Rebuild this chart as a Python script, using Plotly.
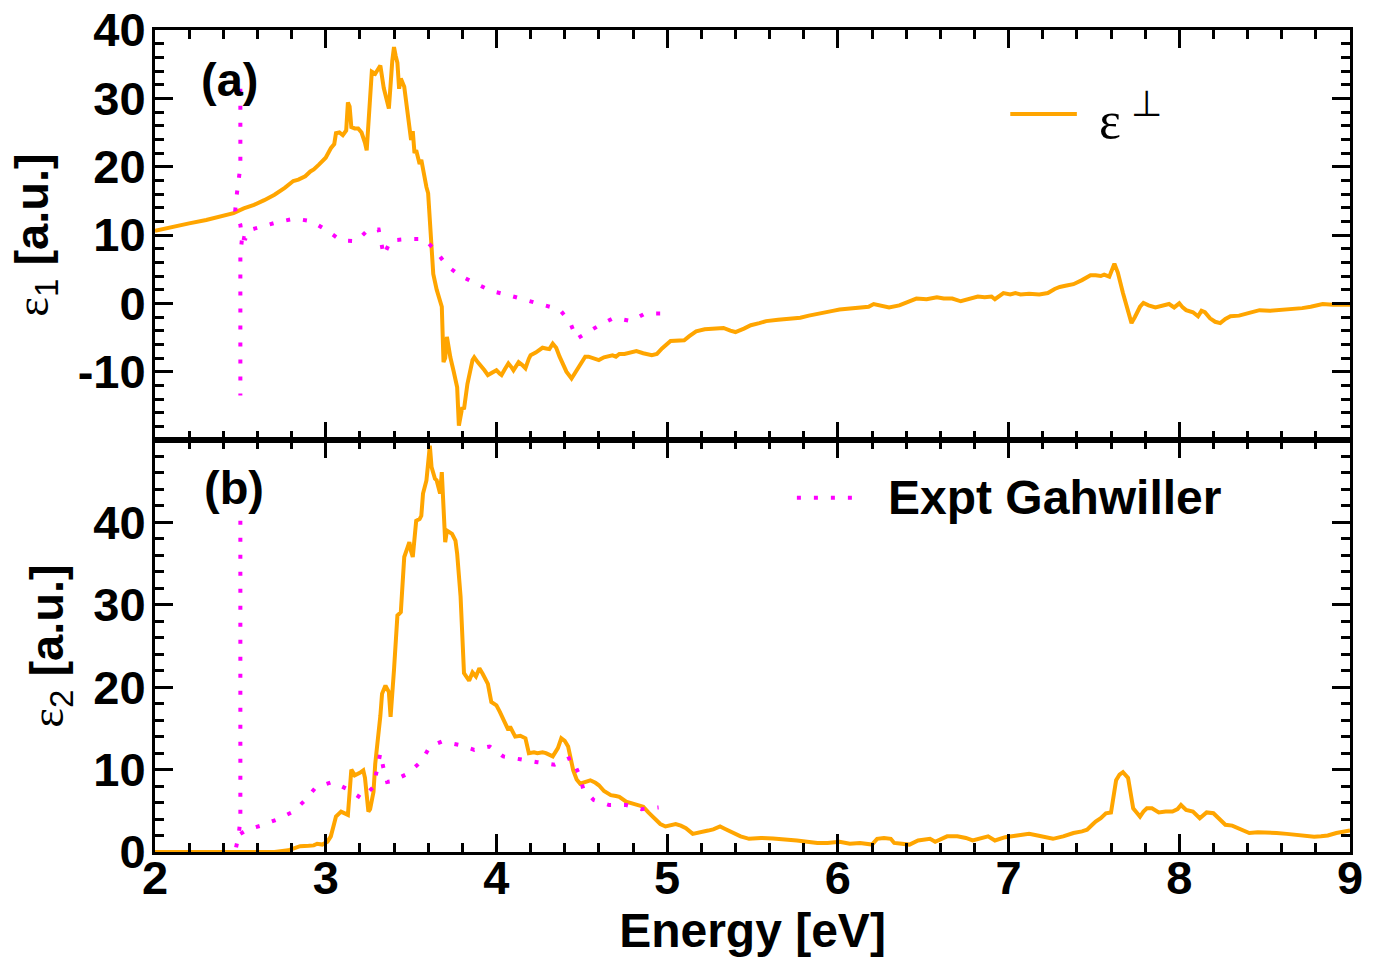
import plotly.graph_objects as go

# ---------------- data ----------------
# calculated epsilon_1 (perpendicular)
calc_e1_energy = [2.00, 2.10, 2.20, 2.30, 2.40, 2.46, 2.52, 2.58, 2.64, 2.70, 2.76, 2.81, 2.84, 2.88, 2.91,
                  2.93, 2.96, 3.00, 3.03, 3.05, 3.06, 3.08, 3.10, 3.12, 3.13, 3.14, 3.15, 3.17, 3.19, 3.21,
                  3.23, 3.24, 3.27, 3.29, 3.30, 3.32, 3.34, 3.36, 3.37, 3.39, 3.40, 3.41, 3.42, 3.43, 3.44,
                  3.46, 3.48, 3.49, 3.50, 3.51, 3.52, 3.53, 3.55, 3.56, 3.57, 3.59, 3.60, 3.61, 3.63, 3.65,
                  3.67, 3.68, 3.69, 3.70, 3.71, 3.72, 3.73, 3.75, 3.77, 3.78, 3.79, 3.80, 3.81, 3.83, 3.86,
                  3.87, 3.89, 3.91, 3.93, 3.95, 3.98, 4.00, 4.02, 4.03, 4.05, 4.07, 4.09, 4.10, 4.12, 4.13,
                  4.15, 4.17, 4.19, 4.20, 4.23, 4.25, 4.27, 4.29, 4.31, 4.33, 4.35, 4.37, 4.39, 4.41, 4.44,
                  4.47, 4.50, 4.52, 4.54, 4.57, 4.60, 4.63, 4.66, 4.68, 4.70, 4.72, 4.75, 4.78, 4.82, 4.86,
                  4.91, 4.94, 4.97, 5.02, 5.06, 5.10, 5.13, 5.17, 5.22, 5.29, 5.33, 5.37, 5.40, 5.45, 5.49,
                  5.54, 5.58, 5.65, 5.72, 5.78, 5.83, 5.88, 5.93, 5.97, 6.01, 6.07, 6.13, 6.18, 6.21, 6.25,
                  6.30, 6.36, 6.41, 6.46, 6.52, 6.58, 6.62, 6.67, 6.72, 6.77, 6.82, 6.86, 6.90, 6.92, 6.95,
                  6.97, 7.01, 7.04, 7.07, 7.12, 7.18, 7.23, 7.27, 7.30, 7.34, 7.38, 7.43, 7.48, 7.51, 7.54,
                  7.56, 7.59, 7.62, 7.64, 7.67, 7.70, 7.72, 7.74, 7.77, 7.79, 7.82, 7.86, 7.90, 7.94, 7.97,
                  8.00, 8.02, 8.04, 8.08, 8.11, 8.13, 8.15, 8.18, 8.21, 8.24, 8.27, 8.30, 8.35, 8.41, 8.47,
                  8.53, 8.58, 8.63, 8.68, 8.72, 8.77, 8.81, 8.84, 8.90, 8.95, 9.00]
calc_e1_values = [10.6, 11.2, 11.7, 12.2, 12.8, 13.2, 13.9, 14.4, 15.1, 15.9, 16.9, 17.9, 18.1, 18.6, 19.3,
                  19.6, 20.3, 21.3, 22.7, 23.3, 24.9, 25.0, 24.6, 25.3, 29.4, 28.8, 25.8, 25.6, 25.6, 25.0,
                  23.5, 22.4, 33.9, 33.6, 34.0, 34.8, 31.5, 29.2, 28.5, 35.5, 37.5, 36.2, 35.2, 31.4, 32.9,
                  31.7, 28.0, 25.8, 23.9, 25.2, 22.0, 22.4, 20.4, 21.0, 19.5, 17.0, 16.1, 12.0, 4.3, 2.0,
                  0.2, -0.5, -8.6, -8.0, -4.9, -6.8, -7.9, -10.0, -12.3, -17.9, -16.0, -15.2, -15.5, -11.8, -8.3,
                  -7.9, -8.6, -9.1, -9.8, -10.5, -10.0, -9.8, -10.3, -10.5, -9.6, -8.8, -9.4, -9.8, -9.0, -8.6,
                  -9.0, -9.5, -8.1, -7.6, -7.2, -6.9, -6.5, -6.6, -6.7, -5.9, -6.5, -7.8, -8.8, -10.0, -11.0,
                  -9.8, -8.6, -7.8, -7.8, -8.0, -8.3, -7.9, -7.7, -7.6, -7.8, -7.4, -7.4, -7.2, -7.0, -7.3,
                  -7.6, -7.4, -6.6, -5.5, -5.4, -5.4, -4.8, -4.1, -3.8, -3.6, -3.6, -4.0, -4.2, -3.7, -3.2,
                  -2.9, -2.6, -2.4, -2.3, -2.1, -1.8, -1.5, -1.3, -1.1, -0.9, -0.8, -0.6, -0.5, -0.1, -0.3,
                  -0.6, -0.3, 0.2, 0.7, 0.6, 0.9, 0.7, 0.7, 0.3, 0.6, 1.0, 0.9, 1.0, 0.6, 1.2,
                  1.5, 1.3, 1.5, 1.3, 1.4, 1.3, 1.5, 2.1, 2.4, 2.6, 2.8, 3.4, 4.1, 4.1, 4.0,
                  4.2, 3.9, 5.8, 4.5, 1.5, -1.0, -2.9, -2.0, -0.5, 0.05, -0.3, -0.6, -0.3, -0.1, -0.6,
                  0.0, -0.6, -1.0, -1.3, -1.9, -1.1, -1.3, -2.2, -2.7, -2.9, -2.3, -1.9, -1.8, -1.4, -1.0,
                  -1.1, -1.0, -1.0, -0.9, -0.7, -0.5, -0.3, -0.1, -0.2, -0.2, -0.2]

# calculated epsilon_2 (perpendicular)
calc_e2_energy = [2.00, 2.70, 2.78, 2.81, 2.85, 2.90, 2.93, 2.95, 2.98, 3.01, 3.03, 3.05, 3.06, 3.09, 3.11,
                  3.13, 3.15, 3.17, 3.20, 3.22, 3.23, 3.24, 3.25, 3.26, 3.28, 3.29, 3.31, 3.32, 3.33, 3.35,
                  3.37, 3.38, 3.40, 3.42, 3.44, 3.46, 3.48, 3.49, 3.50, 3.51, 3.53, 3.55, 3.56, 3.57, 3.59,
                  3.60, 3.61, 3.62, 3.64, 3.65, 3.67, 3.68, 3.70, 3.71, 3.74, 3.76, 3.77, 3.79, 3.80, 3.81,
                  3.84, 3.86, 3.88, 3.90, 3.92, 3.93, 3.95, 3.97, 4.00, 4.02, 4.04, 4.05, 4.07, 4.08, 4.10,
                  4.11, 4.14, 4.17, 4.19, 4.22, 4.24, 4.27, 4.29, 4.31, 4.33, 4.36, 4.38, 4.40, 4.42, 4.45,
                  4.47, 4.49, 4.52, 4.55, 4.58, 4.60, 4.63, 4.67, 4.70, 4.72, 4.76, 4.80, 4.83, 4.86, 4.89,
                  4.93, 4.96, 4.99, 5.02, 5.05, 5.08, 5.11, 5.15, 5.18, 5.21, 5.24, 5.27, 5.31, 5.34, 5.37,
                  5.40, 5.43, 5.48, 5.55, 5.62, 5.71, 5.76, 5.82, 5.88, 5.94, 6.01, 6.07, 6.13, 6.20, 6.23,
                  6.27, 6.31, 6.33, 6.38, 6.42, 6.47, 6.54, 6.57, 6.60, 6.64, 6.70, 6.75, 6.79, 6.84, 6.88,
                  6.92, 6.95, 6.98, 7.05, 7.12, 7.17, 7.22, 7.26, 7.32, 7.38, 7.43, 7.46, 7.49, 7.51, 7.54,
                  7.57, 7.60, 7.62, 7.63, 7.65, 7.67, 7.70, 7.71, 7.73, 7.75, 7.77, 7.79, 7.81, 7.84, 7.88,
                  7.92, 7.96, 7.99, 8.01, 8.04, 8.08, 8.12, 8.14, 8.16, 8.20, 8.24, 8.27, 8.31, 8.36, 8.41,
                  8.46, 8.51, 8.57, 8.63, 8.71, 8.79, 8.83, 8.87, 8.92, 8.95, 8.99, 9.00]
calc_e2_values = [0.0, 0.0, 0.2, 0.45, 0.7, 0.75, 0.8, 1.0, 0.9, 1.25, 1.9, 3.5, 4.3, 4.9, 4.7,
                  4.5, 10.0, 9.3, 9.6, 9.9, 9.0, 6.7, 4.9, 5.2, 7.3, 10.7, 14.0, 16.5, 19.2, 20.2,
                  19.4, 16.4, 22.1, 28.7, 29.1, 35.8, 37.0, 37.6, 36.5, 35.8, 40.2, 40.4, 40.8, 43.5, 45.1,
                  47.0, 49.3, 46.7, 45.3, 45.1, 43.5, 46.1, 37.6, 39.0, 38.6, 37.8, 36.2, 31.0, 26.9, 21.7,
                  20.8, 21.8, 21.3, 22.3, 21.6, 21.1, 20.4, 18.2, 17.8, 17.0, 16.0, 15.6, 14.8, 15.2, 14.2,
                  14.0, 14.1, 13.8, 12.0, 12.1, 12.0, 12.1, 12.0, 11.8, 11.6, 12.6, 13.8, 13.5, 12.8, 9.9,
                  8.8, 8.3, 8.5, 8.7, 8.4, 8.1, 7.4, 6.9, 6.8, 6.7, 6.1, 5.9, 5.7, 5.5, 4.8,
                  3.9, 3.4, 3.1, 3.2, 3.4, 3.2, 2.9, 2.2, 2.3, 2.5, 2.6, 2.75, 3.1, 2.8, 2.5,
                  2.1, 1.9, 1.6, 1.7, 1.65, 1.55, 1.4, 1.25, 1.1, 1.1, 1.25, 1.0, 1.1, 0.9, 1.6,
                  1.7, 1.6, 1.1, 1.0, 0.9, 1.4, 1.6, 1.25, 1.5, 1.9, 1.9, 1.7, 1.4, 1.7, 1.9,
                  1.4, 1.6, 1.8, 2.0, 2.2, 2.0, 1.8, 1.6, 1.9, 2.3, 2.5, 2.7, 3.3, 3.7, 4.1,
                  4.7, 4.8, 7.0, 8.7, 9.4, 9.7, 9.0, 7.5, 5.3, 4.8, 4.3, 4.9, 5.3, 5.3, 4.8,
                  4.9, 4.9, 5.2, 5.7, 5.1, 4.9, 4.1, 4.5, 4.8, 4.7, 3.9, 3.3, 3.2, 2.7, 2.3,
                  2.4, 2.4, 2.3, 2.2, 2.0, 1.85, 1.9, 2.0, 2.3, 2.4, 2.6, 2.6]

# experimental data (Gahwiller); None separates the onset feature from the main curve
expt_e1_energy = [2.50, 2.50, 2.48, 2.47, 2.50, 2.51, 2.50, 2.50, None,
                  2.51, 2.53, 2.55, 2.63, 2.72, 2.82, 2.92, 3.01, 3.09, 3.18, 3.25, 3.31, 3.33, 3.34, 3.38,
                  3.48, 3.58, 3.65, 3.71, 3.79, 3.88, 3.97, 4.07, 4.17, 4.27, 4.37, 4.43, 4.47, 4.53, 4.61,
                  4.69, 4.79, 4.87, 4.97]
expt_e1_values = [31.4, 20.0, 16.1, 13.6, 11.5, 9.6, 7.0, -13.5, None,
                  9.6, 9.5, 10.7, 11.3, 11.9, 12.4, 12.0, 10.6, 9.2, 9.1, 10.8, 10.8, 8.2, 7.0, 9.2,
                  9.4, 9.4, 7.5, 5.5, 4.0, 2.9, 1.8, 1.2, 0.5, -0.3, -0.9, -2.7, -5.2, -4.3, -3.1,
                  -2.1, -2.6, -1.5, -1.5]

expt_e2_energy = [2.50, 2.50, 2.49, 2.47, None,
                  2.50, 2.54, 2.62, 2.71, 2.81, 2.88, 2.94, 3.04, 3.13, 3.21, 3.28, 3.30, 3.32, 3.34, 3.36,
                  3.39, 3.48, 3.56, 3.61, 3.68, 3.78, 3.87, 3.96, 4.04, 4.14, 4.24, 4.34, 4.42, 4.44, 4.48,
                  4.51, 4.57, 4.66, 4.76, 4.85, 4.95]
expt_e2_values = [40.2, 4.0, 2.0, 0.1, None,
                  2.2, 2.7, 3.2, 3.9, 4.9, 6.3, 7.8, 8.5, 7.6, 6.5, 7.9, 9.9, 12.0, 10.0, 8.5,
                  8.6, 9.5, 11.0, 12.8, 13.4, 13.0, 12.4, 12.8, 11.6, 11.2, 10.9, 10.6, 11.3, 11.5, 9.6,
                  7.6, 6.3, 5.7, 5.7, 5.2, 5.4]

x_ticks = [2, 3, 4, 5, 6, 7, 8, 9]
e1_ticks = [-10, 0, 10, 20, 30, 40]
e1_tick_labels = ["-10", "0", "10", "20", "30", "40"]
e2_ticks = [0, 10, 20, 30, 40]

# ---------------- styling ----------------
ORANGE = "#FFA500"
MAGENTA = "#FF00FF"
FONT = "Liberation Sans"
SERIF = "Liberation Serif"
FS = 47

fig = go.Figure()

fig.add_trace(go.Scatter(x=calc_e1_energy, y=calc_e1_values, mode="lines",
                         line=dict(color=ORANGE, width=4), xaxis="x2", yaxis="y2",
                         showlegend=False))
fig.add_trace(go.Scatter(x=expt_e1_energy, y=expt_e1_values, mode="lines",
                         line=dict(color=MAGENTA, width=4, dash="4px,13px"),
                         xaxis="x2", yaxis="y2", showlegend=False))
fig.add_trace(go.Scatter(x=calc_e2_energy, y=calc_e2_values, mode="lines",
                         line=dict(color=ORANGE, width=4), xaxis="x", yaxis="y",
                         showlegend=False))
fig.add_trace(go.Scatter(x=expt_e2_energy, y=expt_e2_values, mode="lines",
                         line=dict(color=MAGENTA, width=4, dash="4px,13px"),
                         xaxis="x", yaxis="y", showlegend=False))

axis_common = dict(
    showline=True, linewidth=3, linecolor="black", mirror="ticks",
    ticks="inside", ticklen=18, tickwidth=3, tickcolor="black",
    showgrid=False, zeroline=False, automargin=False,
    tickfont=dict(family=FONT, size=FS, color="black", weight="bold"),
)
x_minor = dict(dtick=0.2, tick0=2, ticks="inside", ticklen=9, tickwidth=3, tickcolor="black")
y_minor = dict(dtick=2, tick0=0, ticks="inside", ticklen=9, tickwidth=3, tickcolor="black")

split = 412 / 822
eps_span = "<span style=\"font-family:'Liberation Serif'\">ε</span>"

fig.update_layout(
    width=1380, height=960,
    margin=dict(l=155, r=30, t=30, b=108),
    paper_bgcolor="white", plot_bgcolor="white",
    font=dict(family=FONT, color="black"),
    xaxis=dict(axis_common, range=[2, 9], tickvals=x_ticks, anchor="y", domain=[0, 1],
               minor=x_minor, ticklabelstandoff=-17,
               title=dict(text="<b>Energy [eV]</b>", standoff=4,
                          font=dict(family=FONT, size=48, color="black"))),
    yaxis=dict(axis_common, range=[0, 50], tickvals=e2_ticks, anchor="x", domain=[0, split],
               minor=y_minor, ticklabelstandoff=-3,
               title=dict(text=eps_span + "<sub>2</sub> <b>[a.u.]</b>",
                          font=dict(family=FONT, size=FS, color="black"))),
    xaxis2=dict(axis_common, range=[2, 9], tickvals=x_ticks, anchor="y2", matches="x",
                showticklabels=False, domain=[0, 1], minor=x_minor),
    yaxis2=dict(axis_common, range=[-20, 40], tickvals=e1_ticks, ticktext=e1_tick_labels,
                anchor="x2", domain=[split, 1], minor=y_minor, ticklabelstandoff=-3,
                title=dict(text=eps_span + "<sub>1</sub> <b>[a.u.]</b>",
                           font=dict(family=FONT, size=FS, color="black"))),
)

# panel labels
fig.add_annotation(x=2.26, y=32.7, xref="x2", yref="y2", text="<b>(a)</b>", showarrow=False,
                   xanchor="left", yanchor="middle", font=dict(family=FONT, size=FS, color="black"))
fig.add_annotation(x=2.275, y=44.2, xref="x", yref="y", text="<b>(b)</b>", showarrow=False,
                   xanchor="left", yanchor="middle", font=dict(family=FONT, size=FS, color="black"))

# legend keys
fig.add_shape(type="line", x0=7.01, x1=7.40, y0=27.7, y1=27.7, xref="x2", yref="y2",
              line=dict(color=ORANGE, width=4))
fig.add_annotation(x=7.52, y=27.4, xref="x2", yref="y2", text="ε\u2009<sup>⊥</sup>", showarrow=False,
                   xanchor="left", yanchor="middle", font=dict(family=SERIF, size=52, color="black"))
fig.add_shape(type="line", x0=5.76, x1=6.09, y0=43.0, y1=43.0, xref="x", yref="y",
              line=dict(color=MAGENTA, width=4, dash="4px,13px"))
fig.add_annotation(x=6.28, y=43.0, xref="x", yref="y", text="<b>Expt Gahwiller</b>", showarrow=False,
                   xanchor="left", yanchor="middle", font=dict(family=FONT, size=48, color="black"))

fig.write_html("out.html")
